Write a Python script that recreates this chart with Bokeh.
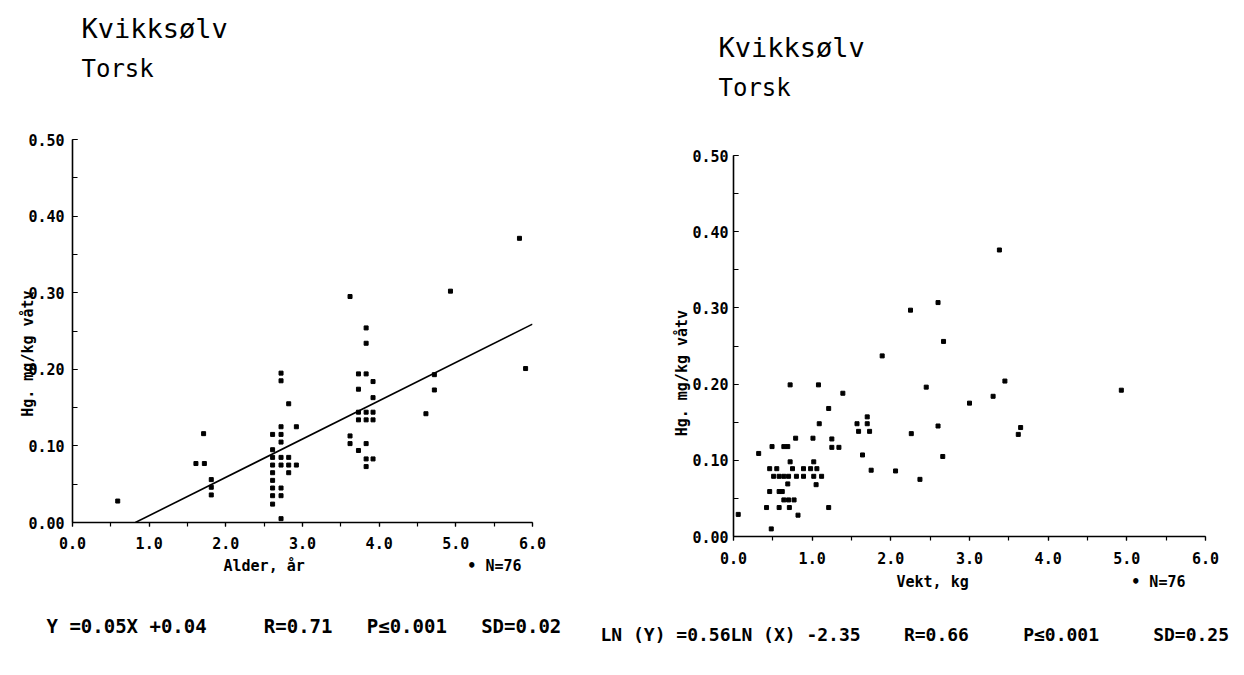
import numpy as np
from bokeh.plotting import figure
from bokeh.models import (Range1d, SingleIntervalTicker, NumeralTickFormatter,
                          Title, Spacer)
from bokeh.layouts import row, column
from bokeh.embed import file_html
from bokeh.resources import INLINE

# ---------------- data ----------------
age_years = [0.59, 1.61, 1.72, 1.71, 1.81, 1.81, 1.81,
             2.61, 2.61, 2.61, 2.61, 2.61, 2.61, 2.61, 2.61, 2.61,
             2.72, 2.72, 2.72, 2.72, 2.72, 2.72, 2.72, 2.72, 2.72, 2.72,
             2.82, 2.82, 2.82, 2.82,
             2.92, 2.92,
             3.62, 3.62, 3.62,
             3.73, 3.73, 3.73, 3.73, 3.73,
             3.83, 3.83, 3.83, 3.83, 3.83, 3.83, 3.83, 3.83,
             3.92, 3.92, 3.92, 3.92, 3.92,
             4.61, 4.72, 4.72, 4.93, 5.83, 5.91]
hg_by_age = [0.028, 0.077, 0.077, 0.116, 0.056, 0.046, 0.036,
             0.115, 0.095, 0.085, 0.075, 0.065, 0.055, 0.045, 0.035, 0.024,
             0.195, 0.185, 0.125, 0.115, 0.105, 0.085, 0.075, 0.045, 0.035, 0.005,
             0.155, 0.085, 0.075, 0.065,
             0.125, 0.075,
             0.295, 0.113, 0.103,
             0.194, 0.174, 0.144, 0.134, 0.094,
             0.254, 0.234, 0.194, 0.144, 0.134, 0.103, 0.083, 0.073,
             0.184, 0.163, 0.144, 0.134, 0.083,
             0.142, 0.193, 0.173, 0.302, 0.371, 0.201]

weight_kg = [1.89, 0.72, 1.08, 1.39, 1.21, 1.09, 1.57, 1.70, 1.70, 1.59, 1.73,
             0.79, 1.01, 1.25, 0.49, 0.64, 0.69, 1.25, 1.34, 0.32, 1.64,
             0.72, 1.02, 0.46, 0.55, 0.75, 0.89, 0.98, 1.06, 1.75, 2.06,
             0.51, 0.58, 0.64, 0.70, 0.80, 0.89, 1.02, 1.12,
             0.69, 1.05, 0.46, 0.58, 0.62, 0.64, 0.70, 0.77,
             0.42, 0.58, 0.71, 1.21, 0.06, 0.82, 0.48,
             3.38, 2.60, 2.25, 2.67, 3.45, 2.45, 4.93, 3.30, 3.00,
             2.60, 3.65, 2.26, 3.62, 2.66, 2.37]
hg_by_weight = [0.237, 0.199, 0.199, 0.188, 0.168, 0.148, 0.148, 0.148, 0.157, 0.138, 0.138,
                0.129, 0.129, 0.128, 0.118, 0.118, 0.118, 0.117, 0.117, 0.109, 0.107,
                0.098, 0.098, 0.089, 0.089, 0.089, 0.089, 0.089, 0.089, 0.087, 0.086,
                0.079, 0.079, 0.079, 0.079, 0.079, 0.079, 0.079, 0.079,
                0.069, 0.068, 0.059, 0.059, 0.059, 0.048, 0.048, 0.048,
                0.038, 0.038, 0.038, 0.038, 0.029, 0.028, 0.010,
                0.376, 0.307, 0.297, 0.256, 0.204, 0.196, 0.192, 0.184, 0.175,
                0.145, 0.143, 0.135, 0.134, 0.105, 0.075]

fit_slope = 0.05
fit_intercept = -0.041
x_max = 6.0
y_max = 0.5

FONT = "DejaVu Sans Mono"
NB = "\u00a0"


def make_panel(width, height, left, right, top, bottom, y_standoff,
               x_standoff, ylab_standoff, ylab_pad):
    p = figure(width=width, height=height, output_backend="svg",
               toolbar_location=None, title=None,
               x_range=Range1d(0, x_max), y_range=Range1d(0, y_max),
               min_border_left=left, min_border_right=right,
               min_border_top=top, min_border_bottom=bottom,
               background_fill_color="white", border_fill_color="white")
    p.outline_line_color = None
    p.xgrid.visible = False
    p.ygrid.visible = False
    p.xaxis.ticker = SingleIntervalTicker(interval=1, num_minor_ticks=2)
    p.yaxis.ticker = SingleIntervalTicker(interval=0.1, num_minor_ticks=2)
    p.xaxis.formatter = NumeralTickFormatter(format="0.0")
    p.yaxis.formatter = NumeralTickFormatter(format="0.00")
    for ax in (p.xaxis, p.yaxis):
        ax.axis_line_color = "black"
        ax.axis_line_width = 1.6
        ax.major_tick_line_color = "black"
        ax.minor_tick_line_color = "black"
        ax.major_tick_line_width = 1.2
        ax.minor_tick_line_width = 1.2
        ax.major_label_text_font = FONT
        ax.major_label_text_font_style = "bold"
        ax.major_label_text_font_size = "15px"
        ax.major_label_text_color = "black"
    p.xaxis.major_tick_out = 4
    p.xaxis.major_tick_in = 0
    p.xaxis.minor_tick_out = 4
    p.xaxis.minor_tick_in = 0
    p.yaxis.major_tick_out = 0
    p.yaxis.major_tick_in = 5
    p.yaxis.minor_tick_out = 0
    p.yaxis.minor_tick_in = 5
    p.xaxis.major_label_standoff = x_standoff
    p.yaxis.major_label_standoff = y_standoff
    p.yaxis.axis_label = "Hg. mg/kg våtv" + NB * ylab_pad
    p.yaxis.axis_label_text_font = FONT
    p.yaxis.axis_label_text_font_style = "bold"
    p.yaxis.axis_label_text_font_size = "15px"
    p.yaxis.axis_label_text_color = "black"
    p.yaxis.axis_label_standoff = ylab_standoff
    return p


def add_title(p, side, text, size, offset, standoff, style="bold"):
    p.add_layout(Title(text=text, align="left", offset=offset,
                       standoff=standoff, text_font=FONT,
                       text_font_size=f"{size}px", text_font_style=style,
                       text_color="black"), side)


# ---------------- left panel: Alder ----------------
L_left, L_frame_w, L_right = 72, 460, 63
L_top, L_frame_h, L_bottom = 139, 383, 152
p1 = make_panel(L_left + L_frame_w + L_right, L_top + L_frame_h + L_bottom,
                L_left, L_right, L_top, L_bottom, y_standoff=8, x_standoff=10,
                ylab_standoff=-12, ylab_pad=5)

p1.scatter(age_years, hg_by_age, marker="square", size=4,
           fill_color="black", line_color="black")
fx0 = -fit_intercept / fit_slope
p1.line([fx0, x_max], [fit_slope * fx0 + fit_intercept,
                       fit_slope * x_max + fit_intercept],
        line_color="black", line_width=1.6)

# titles above (first added sits closest to the frame)
add_title(p1, "above", NB, 15, offset=0, standoff=28)
add_title(p1, "above", "Torsk", 24, offset=9, standoff=18, style="normal")
add_title(p1, "above", "Kvikksølv", 27, offset=9, standoff=0, style="normal")
# rows below
add_title(p1, "below", "Alder, år" + NB * 18 + "•" + NB + "N=76", 15,
          offset=151, standoff=7)
add_title(p1, "below",
          "Y =0.05X +0.04" + NB * 5 + "R=0.71" + NB * 3 + "P≤0.001" + NB * 3
          + "SD=0.02", 19, offset=-26, standoff=68)

# ---------------- right panel: Vekt ----------------
R_shift = 16
R_left, R_frame_w, R_right = 138, 472, 38
R_top, R_frame_h, R_bottom = 139, 381, 138
p2 = make_panel(R_left + R_frame_w + R_right, R_top + R_frame_h + R_bottom,
                R_left, R_right, R_top, R_bottom, y_standoff=5, x_standoff=11,
                ylab_standoff=-2, ylab_pad=6)

p2.scatter(weight_kg, hg_by_weight, marker="square", size=4,
           fill_color="black", line_color="black")

add_title(p2, "above", NB, 15, offset=0, standoff=25)
add_title(p2, "above", "Torsk", 24, offset=-15, standoff=18, style="normal")
add_title(p2, "above", "Kvikksølv", 27, offset=-15, standoff=0,
          style="normal")
add_title(p2, "below", "Vekt, kg" + NB * 18 + "•" + NB + "N=76", 15,
          offset=163, standoff=9)
add_title(p2, "below",
          "LN (Y) =0.56LN (X) -2.35" + NB * 4 + "R=0.66" + NB * 5 + "P≤0.001"
          + NB * 5 + "SD=0.25", 18, offset=-133, standoff=53)

layout = row(p1, column(Spacer(width=10, height=R_shift), p2))
open("out.html", "w").write(file_html(layout, INLINE))
